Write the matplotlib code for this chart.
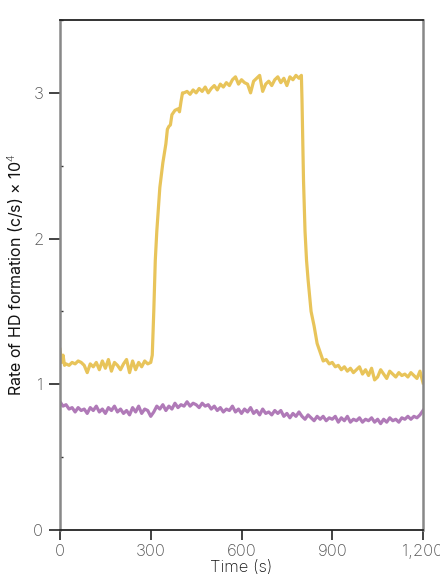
import matplotlib
matplotlib.use("Agg")
import matplotlib.pyplot as plt
from matplotlib.ticker import FuncFormatter, MultipleLocator

plt.rcParams['font.family'] = ['Inter', 'DejaVu Sans']
plt.rcParams['font.weight'] = 'light'

# Yellow series (time in s, rate in c/s x 1e4)
yellow_t = [0, 5, 10, 15, 20, 30, 40, 50, 60, 70, 80, 90, 100, 110, 120, 130, 140, 150,
            160, 170, 180, 190, 200, 210, 220, 230, 240, 250, 260, 270, 280, 290, 300,
            305, 310, 315, 320, 330, 340, 350, 355, 360, 365, 370, 380, 390, 395, 400, 405,
            410, 420, 430, 440, 450, 460, 470, 480, 490, 500, 510, 520, 530, 540, 550, 560,
            570, 580, 590, 600, 610, 620, 630, 640, 650, 660, 670, 680, 690, 700, 710, 720,
            730, 740, 750, 760, 770, 780, 790, 798,
            800, 805, 810, 815, 820, 830, 840, 850, 860, 870, 880, 890, 900, 910, 920, 930,
            940, 950, 960, 970, 980, 990, 1000, 1010, 1020, 1030, 1040, 1050, 1060, 1070,
            1080, 1090, 1100, 1110, 1120, 1130, 1140, 1150, 1160, 1170, 1180, 1190, 1200]
yellow_v = [1.24, 1.15, 1.20, 1.13, 1.14, 1.13, 1.15, 1.14, 1.16, 1.15, 1.13, 1.08, 1.14, 1.12, 1.15, 1.10, 1.16, 1.11,
            1.17, 1.09, 1.15, 1.13, 1.10, 1.14, 1.17, 1.08, 1.16, 1.10, 1.15, 1.12, 1.16, 1.14, 1.15,
            1.20, 1.50, 1.85, 2.05, 2.35, 2.52, 2.65, 2.75, 2.77, 2.78, 2.85, 2.88, 2.89, 2.87, 2.94, 3.00,
            3.00, 3.01, 2.99, 3.02, 3.00, 3.03, 3.01, 3.04, 3.00, 3.03, 3.05, 3.02, 3.06, 3.04, 3.07, 3.05,
            3.09, 3.11, 3.06, 3.09, 3.07, 3.06, 3.00, 3.08, 3.10, 3.12, 3.01, 3.06, 3.08, 3.05, 3.09, 3.11,
            3.07, 3.10, 3.05, 3.11, 3.09, 3.12, 3.10, 3.12,
            2.95, 2.40, 2.05, 1.85, 1.72, 1.50, 1.40, 1.28, 1.22, 1.16, 1.17, 1.14, 1.15, 1.12, 1.13, 1.10,
            1.12, 1.09, 1.11, 1.08, 1.10, 1.12, 1.07, 1.10, 1.06, 1.11, 1.03, 1.05, 1.10, 1.07,
            1.04, 1.09, 1.07, 1.05, 1.08, 1.06, 1.07, 1.05, 1.08, 1.06, 1.04, 1.09, 1.01]

# Purple series, every 10 s
purple_t = list(range(0, 1201, 10))
purple_v = [0.88, 0.85, 0.86, 0.83, 0.84, 0.81, 0.84, 0.82, 0.83, 0.80,
            0.84, 0.82, 0.85, 0.81, 0.83, 0.80, 0.84, 0.82, 0.85, 0.81,
            0.83, 0.80, 0.82, 0.79, 0.84, 0.81, 0.85, 0.80, 0.83, 0.82,
            0.78, 0.81, 0.85, 0.83, 0.86, 0.82, 0.85, 0.83, 0.87, 0.84,
            0.86, 0.85, 0.88, 0.85, 0.87, 0.86, 0.84, 0.87, 0.85, 0.86,
            0.83, 0.85, 0.82, 0.84, 0.81, 0.83, 0.82, 0.85, 0.81, 0.83,
            0.80, 0.83, 0.81, 0.84, 0.80, 0.82, 0.79, 0.83, 0.80, 0.81,
            0.79, 0.82, 0.80, 0.82, 0.78, 0.80, 0.77, 0.80, 0.78, 0.81,
            0.78, 0.76, 0.79, 0.77, 0.75, 0.78, 0.76, 0.78, 0.75, 0.77,
            0.76, 0.78, 0.74, 0.77, 0.75, 0.78, 0.74, 0.76, 0.75, 0.77,
            0.74, 0.76, 0.75, 0.77, 0.74, 0.76, 0.73, 0.76, 0.74, 0.77,
            0.75, 0.76, 0.74, 0.77, 0.76, 0.78, 0.76, 0.78, 0.77, 0.79,
            0.82]

x_ticks = [0, 300, 600, 900, 1200]
y_ticks = [0, 1, 2, 3]

fig = plt.figure(figsize=(4.4, 5.74), dpi=100)
ax = fig.add_axes([60/440, 44/574, 363/440, 510/574])

ax.plot(purple_t, purple_v, color='#B07AB8', lw=2.3, solid_joinstyle='round')
ax.plot(yellow_t, yellow_v, color='#E8C45A', lw=2.3, solid_joinstyle='round')

ax.set_xlim(0, 1200)
ax.set_ylim(0, 3.5)
ax.set_xticks(x_ticks)
ax.set_yticks(y_ticks)
ax.xaxis.set_major_formatter(FuncFormatter(lambda v, p: f"{int(v):,}"))
ax.yaxis.set_minor_locator(MultipleLocator(0.5))

ax.tick_params(axis='x', direction='out', length=7, width=1.2, color='#222',
               labelsize=12, labelcolor='#555', pad=3, top=False)
ax.tick_params(axis='y', direction='out', length=8, width=1.2, color='#222',
               labelsize=12, labelcolor='#555', pad=4)
ax.tick_params(axis='y', which='minor', direction='in', length=2, width=1, color='#333')

for s in ['left', 'right']:
    ax.spines[s].set_color('#888')
    ax.spines[s].set_linewidth(1.8)
for s in ['top', 'bottom']:
    ax.spines[s].set_color('#222')
    ax.spines[s].set_linewidth(1.3)

ax.set_xlabel('Time (s)', fontsize=12, color='#111', labelpad=1, fontweight='light')
ax.set_ylabel('Rate of HD formation (c/s) × 10$^4$', fontsize=11.5, color='#111', labelpad=5,
              fontweight='normal')

fig.savefig('out.png', dpi=100)
